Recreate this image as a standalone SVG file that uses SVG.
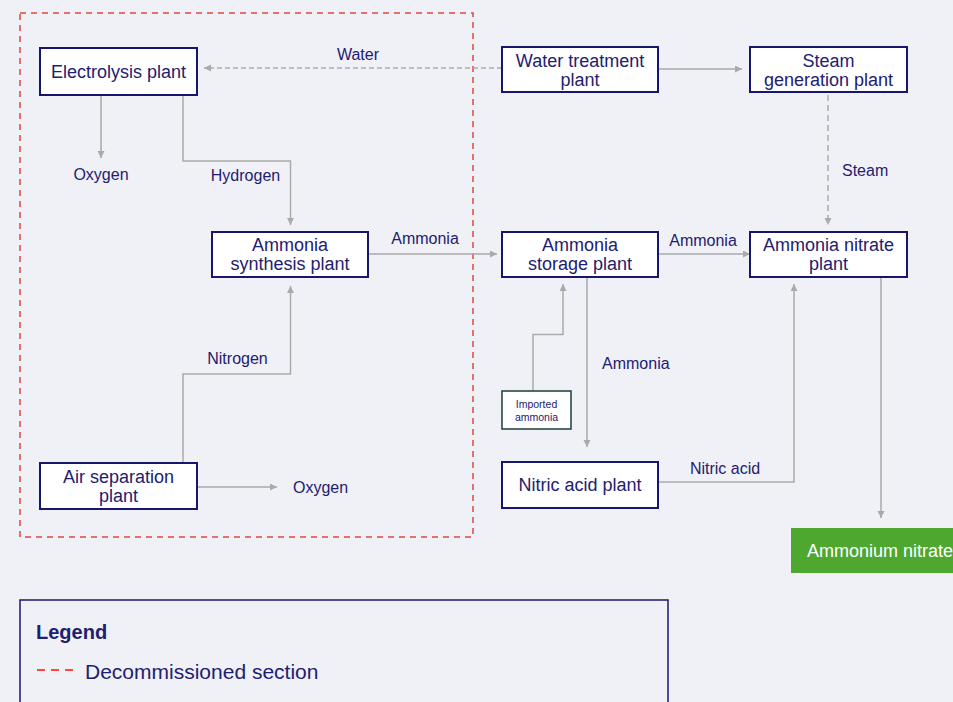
<svg xmlns="http://www.w3.org/2000/svg" width="953" height="702" viewBox="0 0 953 702">
<style>
.bg{fill:#f0f0f7}
.node rect{fill:#ffffff;stroke:#16166e;stroke-width:2}
.t{font-family:"Liberation Sans",Arial,sans-serif;fill:#1e2070;text-anchor:middle}
.nt{font-size:18px}
.lb{font-size:16px}
.c{fill:none;stroke:#aaaaaa;stroke-width:1.5}
.d{stroke-dasharray:5,3}
</style>
<defs>
<marker id="ah" markerUnits="userSpaceOnUse" markerWidth="8" markerHeight="8" refX="7" refY="3.5" orient="auto">
<path d="M0,0 L7,3.5 L0,7 z" fill="#aaaaaa"/>
</marker>
</defs>
<rect class="bg" x="0" y="0" width="953" height="702"/>
<rect x="20" y="13" width="453" height="524" fill="none" stroke="#dd4a3c" stroke-width="1.5" stroke-dasharray="6,5"/>

<g id="connectors">
<path class="c d" d="M502,68 L204,68" marker-end="url(#ah)"/>
<path class="c" d="M101,95 L101,158" marker-end="url(#ah)"/>
<path class="c" d="M183,95 L183,161 L290.5,161 L290.5,225" marker-end="url(#ah)"/>
<path class="c" d="M368,254 L497,254" marker-end="url(#ah)"/>
<path class="c" d="M183,463 L183,374 L290.5,374 L290.5,286" marker-end="url(#ah)"/>
<path class="c" d="M197,487 L277,487" marker-end="url(#ah)"/>
<path class="c" d="M658,69 L742,69" marker-end="url(#ah)"/>
<path class="c" d="M828,95 L828,225" stroke-dasharray="6,4" marker-end="url(#ah)"/>
<path class="c" d="M658,254 L750,254" marker-end="url(#ah)"/>
<path class="c" d="M533,391 L533,334.5 L563,334.5 L563,284" marker-end="url(#ah)"/>
<path class="c" d="M587,277 L587,447" marker-end="url(#ah)"/>
<path class="c" d="M658,482 L794,482 L794,284" marker-end="url(#ah)"/>
<path class="c" d="M881,277 L881,518" marker-end="url(#ah)"/>
<text class="t lb" x="358" y="60">Water</text>
<text class="t lb" x="101" y="180">Oxygen</text>
<text class="t lb" x="245.5" y="181">Hydrogen</text>
<text class="t lb" x="425" y="244">Ammonia</text>
<text class="t lb" x="237.5" y="364">Nitrogen</text>
<text class="t lb" x="293" y="493" style="text-anchor:start">Oxygen</text>
<text class="t lb" x="842" y="176" style="text-anchor:start">Steam</text>
<text class="t lb" x="703" y="246">Ammonia</text>
<text class="t lb" x="602" y="369" style="text-anchor:start">Ammonia</text>
<text class="t lb" x="725" y="474">Nitric acid</text>
</g>

<g id="electrolysis" class="node">
<rect x="40" y="48" width="157" height="47"/>
<text class="t nt" x="118.5" y="78">Electrolysis plant</text>
</g>
<g id="ammonia-synthesis" class="node">
<rect x="212" y="232" width="156" height="45"/>
<text class="t nt" x="290" y="251">Ammonia</text>
<text class="t nt" x="290" y="270">synthesis plant</text>
</g>
<g id="air-separation" class="node">
<rect x="40" y="463" width="157" height="46"/>
<text class="t nt" x="118.5" y="483">Air separation</text>
<text class="t nt" x="118.5" y="502">plant</text>
</g>
<g id="water-treatment" class="node">
<rect x="502" y="47" width="156" height="45"/>
<text class="t nt" x="580" y="67">Water treatment</text>
<text class="t nt" x="580" y="86">plant</text>
</g>
<g id="steam-generation" class="node">
<rect x="750" y="47" width="157" height="45"/>
<text class="t nt" x="828.5" y="67">Steam</text>
<text class="t nt" x="828.5" y="86">generation plant</text>
</g>
<g id="ammonia-storage" class="node">
<rect x="502" y="232" width="156" height="45"/>
<text class="t nt" x="580" y="251">Ammonia</text>
<text class="t nt" x="580" y="270">storage plant</text>
</g>
<g id="ammonia-nitrate" class="node">
<rect x="750" y="232" width="157" height="45"/>
<text class="t nt" x="828.5" y="251">Ammonia nitrate</text>
<text class="t nt" x="828.5" y="270">plant</text>
</g>
<g id="nitric-acid" class="node">
<rect x="502" y="462" width="156" height="46"/>
<text class="t nt" x="580" y="491">Nitric acid plant</text>
</g>
<g id="imported-ammonia">
<rect x="502" y="391" width="69" height="38" fill="#ffffff" stroke="#1d3b3b" stroke-width="1.5"/>
<text class="t" x="536.5" y="408" font-size="10.5">Imported</text>
<text class="t" x="536.5" y="421" font-size="10.5">ammonia</text>
</g>
<g id="ammonium-nitrate">
<rect x="791" y="528" width="170" height="45" fill="#4ea82f"/>
<text class="t" x="807" y="557" font-size="18" style="text-anchor:start;fill:#ffffff">Ammonium nitrate</text>
</g>

<g id="legend">
<rect x="20" y="600" width="648" height="120" fill="none" stroke="#16166e" stroke-width="1.5"/>
<text class="t" x="36" y="639" font-size="20" font-weight="bold" style="text-anchor:start">Legend</text>
<path d="M37,670 L74,670" stroke="#ff4a3a" stroke-width="2" stroke-dasharray="8,6"/>
<text class="t" x="85" y="679" font-size="21" style="text-anchor:start">Decommissioned section</text>
</g>
</svg>
